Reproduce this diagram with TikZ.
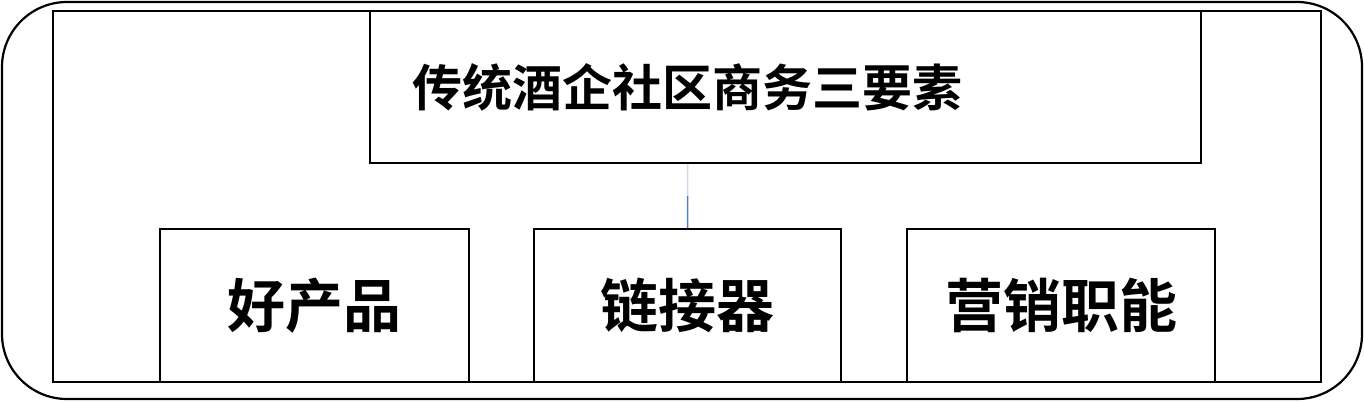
\documentclass[tikz,border=0pt]{standalone}
\usepackage{fontspec}
\usetikzlibrary{calc}
\newfontfamily\cjk{Noto Sans CJK SC}[BoldFont={Noto Sans CJK SC Bold}]
\begin{document}
\begin{tikzpicture}[x=1pt,y=-1pt,
  box/.style={draw=black,line width=2.2pt,inner sep=0pt,anchor=north west},
  ttl/.style={font=\cjk\bfseries\fontsize{50}{54}\selectfont},
  sub/.style={font=\cjk\bfseries\fontsize{58}{62}\selectfont}]
\useasboundingbox (0,0) rectangle (1364,402);
\draw[line width=2.2pt,rounded corners=65pt] (2,2) rectangle (1362,399);
\node[box,minimum width=1268pt,minimum height=371pt] (frame) at (52,10) {};
\node[box,minimum width=831pt,minimum height=152pt] (top) at (369,10) {};
\node[box,minimum width=309pt,minimum height=153pt] (a) at (159,228) {};
\node[box,minimum width=307pt,minimum height=153pt] (b) at (533,228) {};
\node[box,minimum width=308pt,minimum height=153pt] (c) at (906,228) {};
\node[ttl] (t) at (b.north |- top.center) {传统酒企社区商务三要素};
\node[sub] at (a.center) {好产品};
\node[sub] at (b.center) {链接器};
\node[sub] at (c.center) {营销职能};
\coordinate (up) at (b.north |- top.south);
\coordinate (mid) at ($(up)!0.5!(b.north)$);
\draw[line width=1.7pt,color={rgb,255:red,205;green,218;blue,232}] (up) -- (mid);
\draw[line width=1.7pt,color={rgb,255:red,79;green,129;blue,189}] (mid) -- (b.north);
\end{tikzpicture}
\end{document}
